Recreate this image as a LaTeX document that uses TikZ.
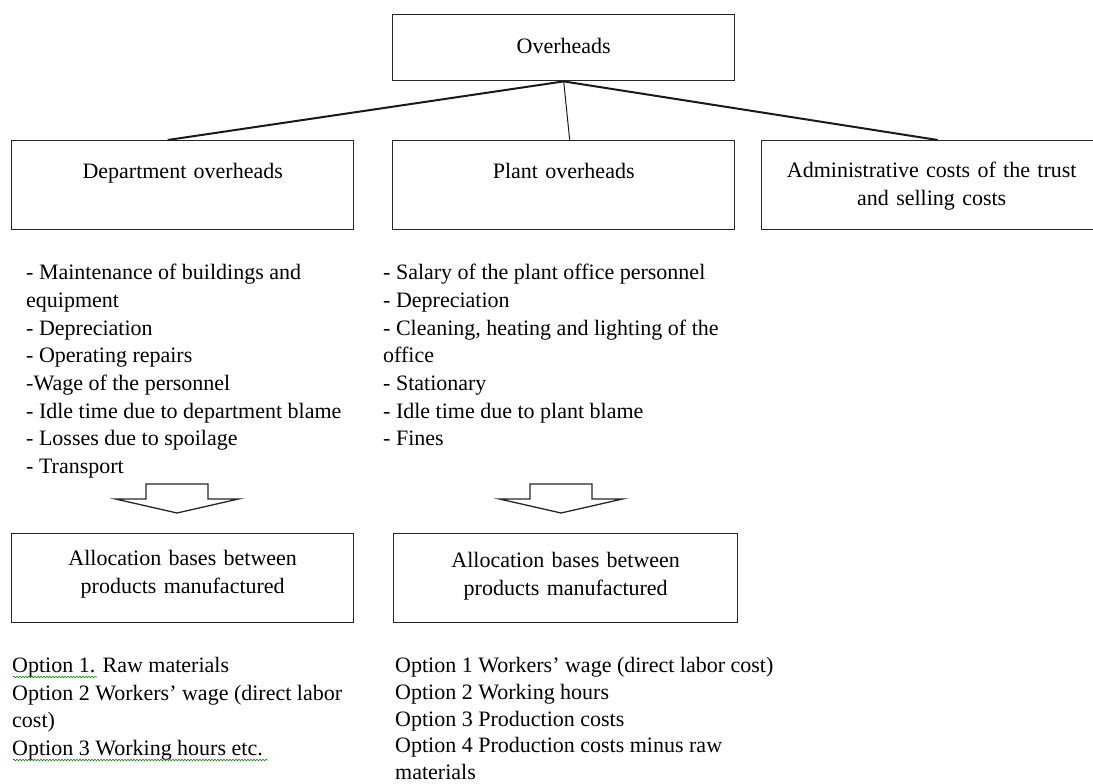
\documentclass[tikz,border=0pt]{standalone}
\usepackage{fontspec}
\setmainfont{Liberation Serif}
\usetikzlibrary{decorations.pathmorphing}
\begin{document}
\begin{tikzpicture}[x=1pt,y=-1pt,every node/.style={font=\fontsize{22}{27.7}\selectfont},
  box/.style={draw=black!85,line width=1.4pt,inner xsep=4pt,inner ysep=0pt,text width=#1,align=center,anchor=north west},
  list/.style={inner sep=0pt,align=left,anchor=north west},
  conn/.style={draw=black!90,line width=2pt},
  blockarrow/.style={draw=black!85,line width=1.3pt,line join=miter,fill=white},
  squiggle/.style={draw=green!55!black,line width=0.6pt,decorate,decoration={snake,amplitude=0.8pt,segment length=3pt}}]
  \useasboundingbox (0,0) rectangle (1093,784);
  % top level
  \node[box=334pt,text height=39pt,text depth=27pt] (ovh) at (392,14) {Overheads};
  \node[box=334pt,text height=38pt,text depth=51pt] (dept) at (11,140) {Department overheads};
  \node[box=334pt,text height=38pt,text depth=51pt] (plant) at (392,140) {Plant overheads};
  \node[box=332pt,text height=37pt,text depth=52pt] (adm) at (761,140) {Administrative costs of the trust\\and selling costs};
  \draw[conn] (ovh.south) -- ([xshift=-15pt]dept.north);
  \draw[conn,line width=1pt] (ovh.south) -- ([xshift=6pt]plant.north);
  \draw[conn] (ovh.south) -- ([xshift=6pt]adm.north);
  % cost items
  \node[list] (deptitems) at (26,264) {- Maintenance of buildings and\\equipment\\- Depreciation\\- Operating repairs\\-Wage of the personnel\\- Idle time due to department blame\\- Losses due to spoilage\\- Transport};
  \node[list] (plantitems) at (383,264) {- Salary of the plant office personnel\\- Depreciation\\- Cleaning, heating and lighting of the\\office\\- Stationary\\- Idle time due to plant blame\\- Fines};
  % block arrows
  \foreach \x in {177,561}
    \draw[blockarrow] ({\x-31},484) -- ({\x+31},484) -- ({\x+31},499) -- ({\x+61.5},499) -- (\x,513) -- ({\x-61.5},499) -- ({\x-31},499) -- cycle;
  % allocation bases
  \node[box=334pt,text height=32pt,text depth=57pt] (alloca) at (11,533) {Allocation bases between\\products manufactured};
  \node[box=336pt,text height=34pt,text depth=55pt] (allocb) at (393,533) {Allocation bases between\\products manufactured};
  % options
  \node[list] (opta) at (12,657) {Option 1. Raw materials\\Option 2 Workers’ wage (direct labor\\cost)\\Option 3 Working hours etc.};
  \node[list,font=\fontsize{22}{26.8}\selectfont] (optb) at (395,657) {Option 1 Workers’ wage (direct labor cost)\\Option 2 Working hours\\Option 3 Production costs\\Option 4 Production costs minus raw\\materials};
  \draw[squiggle] (13,677) -- (97,677);
  \draw[squiggle] (13,760) -- (268,760);
\end{tikzpicture}
\end{document}
